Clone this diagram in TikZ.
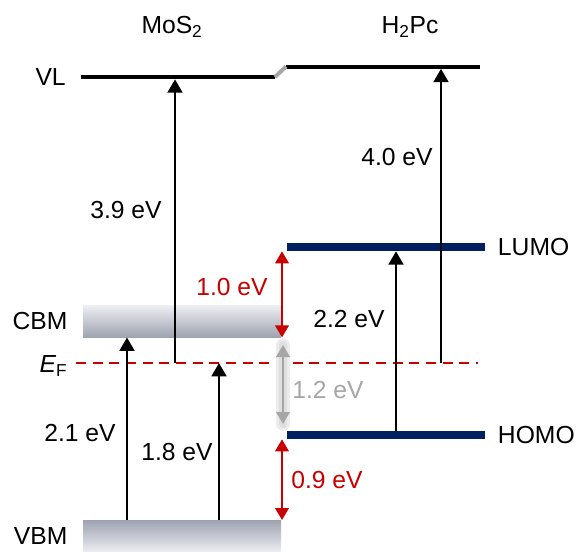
\documentclass[tikz,border=0pt]{standalone}
\usepackage{fontspec}
\setmainfont{Liberation Sans}
\usepackage{xcolor}
\usetikzlibrary{arrows.meta,positioning}
\definecolor{levelblue}{RGB}{0,32,96}
\definecolor{gapred}{RGB}{200,0,0}
\definecolor{bandlight}{RGB}{236,237,241}
\definecolor{banddark}{RGB}{158,163,176}
\tikzset{every node/.style={font=\fontsize{18.5}{22}\selectfont}}

\begin{document}
\begin{tikzpicture}[
x=0.75pt, y=-0.75pt,
band/.style={rectangle, inner sep=0pt, minimum width=148.5pt, minimum height=23.5pt},
level/.style={rectangle, inner sep=0pt, fill=levelblue, minimum width=148.5pt, minimum height=6pt},
vac/.style={rectangle, inner sep=0pt, fill=black, minimum width=145pt, minimum height=3pt},
arr/.style={-{Triangle[width=11pt,length=10pt]}, line width=2pt},
gap/.style={{Triangle[width=10pt,length=9pt]}-{Triangle[width=10pt,length=9pt]}, line width=1.9pt, gapred},
lab/.style={inner sep=1pt}
]
\useasboundingbox (0,0) rectangle (576,551);

% bands and levels
\node[band, top color=bandlight, bottom color=banddark] (cbm) at (182,321.5) {};
\node[band, top color=banddark, bottom color=bandlight] (vbm) at (182,536) {};
\node[level] (lumo) at (386,247) {};
\node[level] (homo) at (386,435) {};
\node[vac] (vlmos) at (178,77) {};
\node[vac] (vlpc) at (383,66.5) {};
\draw[gray!70, line width=3pt] (vlmos.east) -- (vlpc.west);

% Fermi level
\coordinate (efl) at (76,363);
\coordinate (efr) at (478,363);
\draw[gapred, line width=1.3pt, dash pattern=on 7.5pt off 5pt] (efl) -- (efr);

% titles and level names
\node (mos) at (172,27) {MoS\textsubscript{2}};
\node (pc) at (410,27) {H\textsubscript{2}Pc};
\node[left=8pt of vlmos] (vllab) {VL};
\node[left=8pt of cbm] (cbmlab) {CBM};
\node[left=8pt of vbm] (vbmlab) {VBM};
\node[anchor=east] (eflab) at (72,366) {{\itshape E}\textsubscript{F}};
\node[right=6pt of lumo] (lumolab) {LUMO};
\node[right=6pt of homo] (homolab) {HOMO};

% transitions
\coordinate (a39) at (175,363);
\coordinate (a40) at (441,363);
\coordinate (a21) at (127,0);
\coordinate (a18) at (219,363);
\coordinate (a22) at (396,0);
\draw[arr] (a39) -- (a39 |- vlmos.south);
\draw[arr] (a40) -- (a40 |- vlpc.south);
\draw[arr] (a21 |- vbm.north) -- (a21 |- cbm.south);
\draw[arr] (a18 |- vbm.north) -- (a18);
\draw[arr] (a22 |- homo.north) -- (a22 |- lumo.south);

% offsets
\coordinate (o10) at (282,0);
\draw[gap] (o10 |- lumo.south) -- (o10 |- cbm.south);
\draw[gap] (o10 |- homo.south) -- (o10 |- vbm.north);
\coordinate (g1) at (283,345);
\coordinate (g2) at (283,424);
\draw[gray!15, line width=10pt, line cap=round] (g1) -- (g2);
\draw[gray!25, line width=6pt, line cap=round] (g1) -- (g2);
\draw[gap, gray!70] (g1) -- (g2);

% values
\node[lab] (l39) at (126,210) {3.9 eV};
\node[lab] (l40) at (397,157) {4.0 eV};
\node[lab, gapred] (l10) at (232,287) {1.0 eV};
\node[lab] (l22) at (349,319) {2.2 eV};
\node[lab, gray!70] (l12) at (328,390) {1.2 eV};
\node[lab] (l21) at (80,433) {2.1 eV};
\node[lab] (l18) at (177,452) {1.8 eV};
\node[lab, gapred] (l09) at (327,480) {0.9 eV};

\end{tikzpicture}
\end{document}
